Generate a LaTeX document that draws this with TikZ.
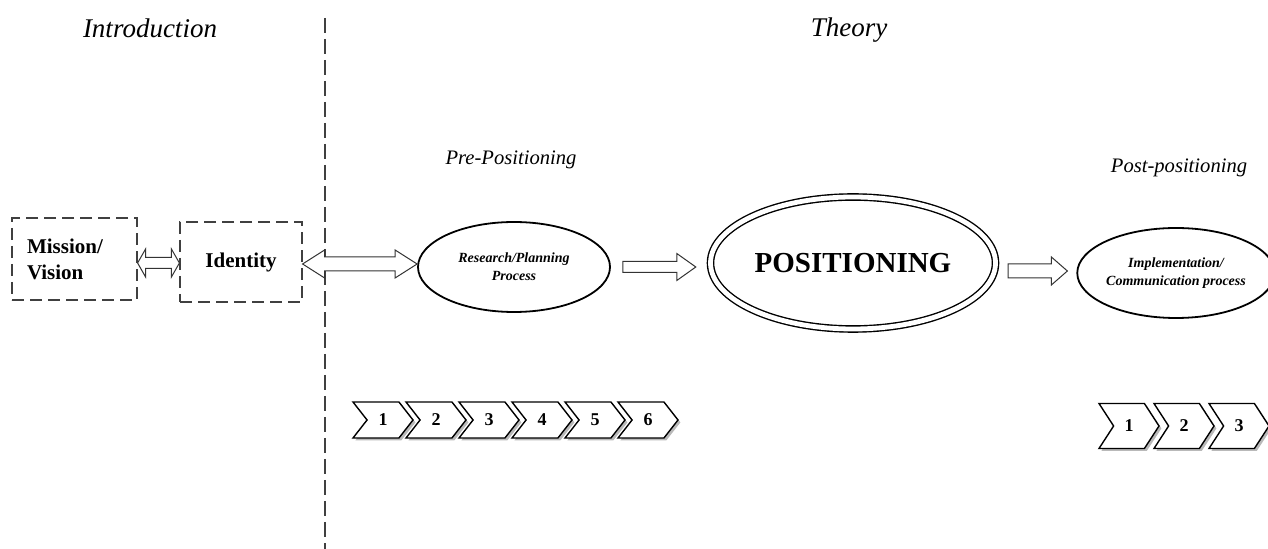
\documentclass[tikz,border=0pt]{standalone}
\usepackage{fontspec}
\setmainfont{Liberation Serif}
\usetikzlibrary{calc,shapes.geometric,shapes.symbols,shadows}
\newcommand{\hollowarrow}[5]{%
	\draw[blockarrow] let \p1=(#1), \p2=(#2) in
		(\x1,{\y1-#3}) -- ({\x2-#5},{\y1-#3}) -- ({\x2-#5},{\y1-#4}) -- (\x2,\y1)
		-- ({\x2-#5},{\y1+#4}) -- ({\x2-#5},{\y1+#3}) -- (\x1,{\y1+#3}) -- cycle;}
\newcommand{\hollowdarrow}[5]{%
	\draw[blockarrow] let \p1=(#1), \p2=(#2) in
		(\x1,\y1) -- ({\x1+#5},{\y1+#4}) -- ({\x1+#5},{\y1+#3}) -- ({\x2-#5},{\y1+#3})
		-- ({\x2-#5},{\y1+#4}) -- (\x2,\y1) -- ({\x2-#5},{\y1-#4}) -- ({\x2-#5},{\y1-#3})
		-- ({\x1+#5},{\y1-#3}) -- ({\x1+#5},{\y1-#4}) -- cycle;}

\begin{document}
\begin{tikzpicture}[x=0.5pt,y=-0.5pt,
		every node/.style={font=\small},
		heading/.style={font=\fontsize{13.5}{16}\selectfont\itshape},
		phase/.style={font=\fontsize{10.3}{12}\selectfont\itshape},
		dashbox/.style={draw=black!75,line width=0.6pt,dash pattern=on 6pt off 3pt,inner sep=0pt,
			font=\fontsize{10.5}{13}\selectfont\bfseries},
		stage/.style={ellipse,draw,line width=0.9pt,inner sep=0pt,minimum width=95pt,minimum height=45pt,
			align=center,font=\fontsize{7}{9}\selectfont\bfseries\itshape},
		blockarrow/.style={draw=black!80,line width=0.5pt,fill=white},
		chevron/.style={signal,signal from=west,signal to=east,draw,line width=0.7pt,fill=white,
			inner sep=0pt,minimum width=30pt,font=\fontsize{9}{10}\selectfont\bfseries,
			drop shadow={shadow xshift=1.2pt,shadow yshift=-1.2pt,fill=black!55}}]
		\useasboundingbox (0,0) rectangle (1268,549);
		\node[heading] (introtitle) at (150,28) {Introduction};
		\node[heading] (theorytitle) at (849,30) {Theory};
		\coordinate (divtop) at (325,18);
		\coordinate (divbot) at (325,549);
		\draw[black!75,line width=0.6pt,dash pattern=on 7.5pt off 3pt] (divtop) -- (divbot);
		\node[dashbox,minimum width=62.5pt,minimum height=41pt,text width=47.5pt,align=left] (mission) at (74.5,259) {Mission/\\Vision};
		\node[dashbox,minimum width=61pt,minimum height=40pt] (identity) at (241,262) {Identity};
		\node[phase] (prepos) at (511,160) {Pre-Positioning};
		\node[stage,minimum width=96pt] (research) at (514,267) {Research/Planning\\Process};
		\node[ellipse,draw,double,double distance=2.4pt,line width=0.7pt,inner sep=0pt,minimum width=142.5pt,minimum height=66pt,
			font=\fontsize{14.5}{16}\selectfont\bfseries] (pos) at (853,263) {POSITIONING};
		\node[phase] (postpos) at (1179,168) {Post-positioning};
		\node[stage,minimum width=94pt] (impl) at (1176,273) {Implementation/\\Communication process};
		\hollowdarrow{[yshift=-2pt]mission.east}{identity.west}{2.75pt}{7pt}{4pt}
		\hollowdarrow{[yshift=-1pt]identity.east}{research.west}{3.5pt}{7pt}{11pt}
		\hollowarrow{[xshift=6pt]research.east}{[xshift=-7pt]pos.west}{2.75pt}{6.75pt}{9.5pt}
		\hollowarrow{[xshift=6pt,yshift=-4pt]pos.east}{[xshift=-4.5pt]impl.west}{3.5pt}{7pt}{8pt}
		\foreach \i in {1,...,6}
			\node[chevron,minimum height=18pt,signal pointer angle=104] (p\i) at ({383+53*(\i-1)},420) {\i};
		\foreach \i in {1,2,3}
			\node[chevron,minimum height=22.5pt,signal pointer angle=114] (q\i) at ({1129+55*(\i-1)},426) {\i};
	\end{tikzpicture}
\end{document}
